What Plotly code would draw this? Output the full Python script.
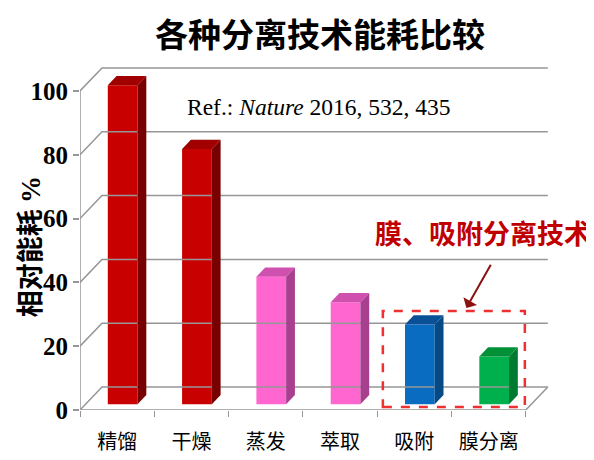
import plotly.graph_objects as go

# data
categories = ["精馏", "干燥", "蒸发", "萃取", "吸附", "膜分离"]
energy = [100, 80, 40, 32, 25, 15]
front_colors = ["#c80000", "#c80000", "#ff66d0", "#ff66d0", "#0a6cc0", "#00b04c"]
top_colors = ["#a00000", "#a00000", "#d050b0", "#d050b0", "#0a5096", "#009038"]
side_colors = ["#780000", "#780000", "#a8408f", "#a8408f", "#064a85", "#007a30"]
y_ticks = [0, 20, 40, 60, 80, 100]

# fake 3d geometry (data units)
DX, DY = 0.296, 7.2      # depth of the box
d0, d1 = 0.25, 0.65      # bar front/back depth fraction
bw = 0.40                # bar width
grid_col = "#969696"

fig = go.Figure()

# back wall gridlines + left wall diagonals
for t in y_ticks:
    fig.add_trace(go.Scatter(x=[-0.5, -0.5 + DX, 5.5 + DX], y=[t, t + DY, t + DY],
                             mode="lines", line=dict(color=grid_col, width=1.5),
                             hoverinfo="skip", showlegend=False))
# front axis line, floor
fig.add_trace(go.Scatter(x=[-0.5, -0.5, 5.5, 5.5 + DX], y=[y_ticks[-1], 0, 0, DY], mode="lines",
                         line=dict(color=grid_col, width=1.5), hoverinfo="skip", showlegend=False))

s = d0 * DX
base = d0 * DY
ddx = (d1 - d0) * DX
ddy = (d1 - d0) * DY

for i, v in enumerate(energy):
    xl = i + s - bw / 2
    xr = i + s + bw / 2
    top = v + base
    # side face
    fig.add_trace(go.Scatter(x=[xr, xr + ddx, xr + ddx, xr, xr], y=[base, base + ddy, top + ddy, top, base],
                             fill="toself", fillcolor=side_colors[i], mode="lines",
                             line=dict(width=0, color=side_colors[i]), hoverinfo="skip", showlegend=False))
    # top face
    fig.add_trace(go.Scatter(x=[xl, xl + ddx, xr + ddx, xr, xl], y=[top, top + ddy, top + ddy, top, top],
                             fill="toself", fillcolor=top_colors[i], mode="lines",
                             line=dict(width=0, color=top_colors[i]), hoverinfo="skip", showlegend=False))

# front faces
fig.add_trace(go.Bar(x=[i + s for i in range(len(energy))], y=energy, base=base, width=bw,
                     marker=dict(color=front_colors, line=dict(width=0)), showlegend=False))

# page body has an 8px margin, so shift the plot area up/left by that
fig.update_layout(
    width=594, height=460,
    margin=dict(l=72, r=42, t=52, b=58),
    paper_bgcolor="white", plot_bgcolor="white",
    font=dict(family="Noto Sans CJK SC", color="black"),
    xaxis=dict(range=[-0.5, 5.96], tickvals=list(range(len(categories))), ticktext=categories,
               showgrid=False, zeroline=False, showline=False, ticks="",
               tickfont=dict(size=20, family="Noto Sans CJK SC"), ticklabelstandoff=18,
               minor=dict(tick0=-0.5, dtick=1, ticks="outside", ticklen=6, tickcolor=grid_col,
                          showgrid=False)),
    yaxis=dict(range=[0, 109.7], tickvals=y_ticks, showgrid=False, zeroline=False, showline=False,
               ticks="outside", ticklen=6, tickcolor=grid_col, tickwidth=1.5,
               tickfont=dict(size=25, family="Liberation Serif", weight="bold")),
    shapes=[dict(type="rect", xref="x", yref="y", x0=3.576, x1=5.487, y0=0.94, y1=31.0,
                 line=dict(color="#ee3030", width=2.5, dash="dash"))],
    annotations=[
        dict(text="各种分离技术能耗比较", xref="paper", yref="paper", x=0.5, y=1.0, yshift=27,
             xanchor="center", yanchor="middle", showarrow=False,
             font=dict(size=33, weight="bold", color="black")),
        dict(text="相对能耗 <span style='font-family:Liberation Serif'>%</span>",
             xref="paper", yref="paper", x=0, xshift=-52, y=0.465,
             textangle=-90, xanchor="center", yanchor="middle", showarrow=False,
             font=dict(size=27, weight="bold", color="black")),
        dict(text="Ref.: <i>Nature</i> 2016, 532, 435", xref="x", yref="y", x=0.913, y=95,
             xanchor="left", yanchor="middle", showarrow=False,
             font=dict(size=23.5, family="Liberation Serif", color="black")),
        dict(text="膜、吸附分离技术", xref="x", yref="y", x=4.92, y=55.5,
             xanchor="center", yanchor="middle", showarrow=False,
             font=dict(size=27, weight="bold", color="#c00000")),
        dict(text="", xref="x", yref="y", x=4.70, y=32.0, ax=5.04, ay=46.0,
             axref="x", ayref="y", showarrow=True, arrowhead=1, arrowsize=1.3,
             arrowwidth=2, arrowcolor="#8b1010"),
    ],
)

fig.write_html("out.html")
